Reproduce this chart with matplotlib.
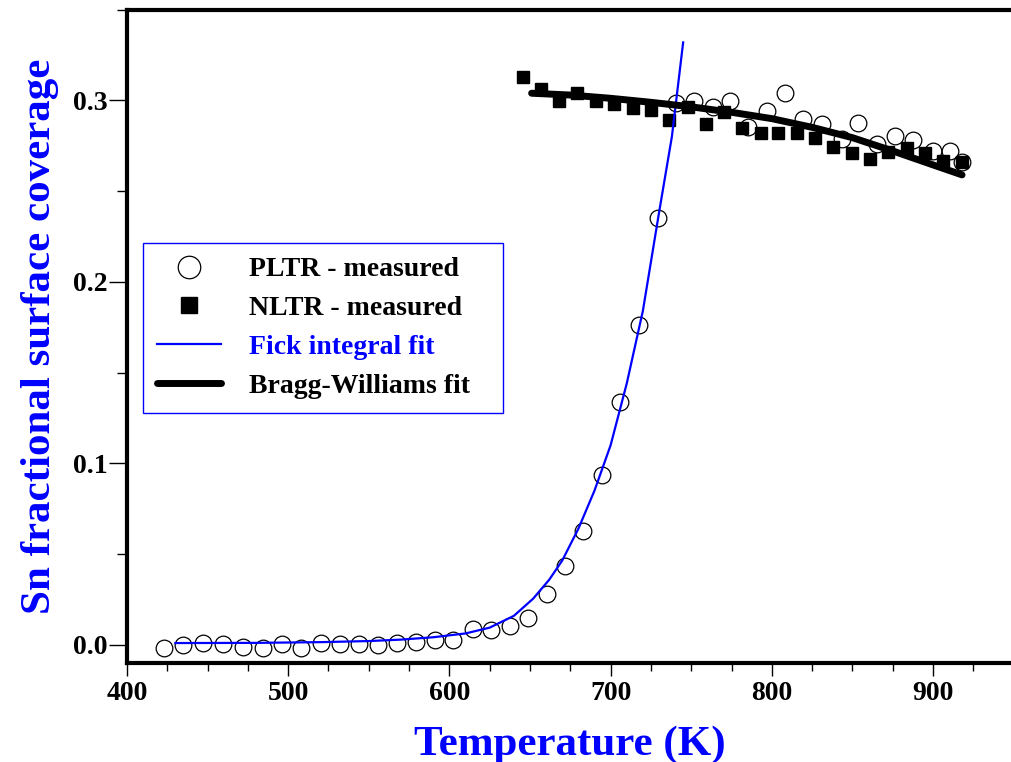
import matplotlib
matplotlib.use("Agg")
import matplotlib.pyplot as plt
from matplotlib.ticker import MultipleLocator, FormatStrFormatter

# PLTR - measured (open circles)
pltr_T = [423.0, 434.7, 447.1, 459.6, 472.0, 484.4, 496.2, 508.0, 520.4, 532.1,
          543.9, 555.7, 567.5, 579.3, 591.1, 602.2, 614.6, 625.8, 637.6, 648.8,
          660.5, 671.7, 682.9, 694.7, 705.8, 717.6, 729.4, 740.6, 751.7, 763.5,
          774.1, 785.2, 797.0, 808.2, 819.4, 831.1, 843.5, 853.5, 865.3, 876.4,
          887.6, 900.0, 910.5, 918.0]
pltr_cov = [-0.0018, -0.0002, 0.0010, 0.0004, -0.0010, -0.0015, 0.0004, -0.0018, 0.0013, 0.0006,
            0.0004, 0.0000, 0.0010, 0.0018, 0.0028, 0.0028, 0.0088, 0.0083, 0.0105, 0.0149,
            0.0281, 0.0435, 0.0628, 0.0937, 0.1339, 0.1763, 0.2353, 0.2986, 0.2997, 0.2964,
            0.2997, 0.2854, 0.2942, 0.3041, 0.2898, 0.2871, 0.2788, 0.2876, 0.2760, 0.2804,
            0.2782, 0.2722, 0.2722, 0.2661]

# NLTR - measured (filled squares)
nltr_T = [645.7, 656.8, 668.0, 679.2, 690.9, 702.1, 713.9, 725.1, 736.2, 748.0,
          759.2, 770.3, 781.5, 793.3, 803.8, 815.6, 826.8, 838.0, 849.8, 860.9,
          872.1, 883.9, 895.0, 906.2, 918.0]
nltr_cov = [0.3129, 0.3063, 0.2997, 0.3041, 0.2997, 0.2981, 0.2959, 0.2948, 0.2893, 0.2964,
            0.2871, 0.2937, 0.2849, 0.2821, 0.2821, 0.2821, 0.2793, 0.2744, 0.2711, 0.2678,
            0.2716, 0.2738, 0.2711, 0.2667, 0.2661]

# Fick integral fit
fick_T = [430, 480, 520, 550, 570, 590, 610, 625, 640, 652,
          662, 670, 680, 690, 700, 710, 720, 730, 738, 745]
fick_cov = [0.0010, 0.0011, 0.0015, 0.0021, 0.0029, 0.0042, 0.0063, 0.0095, 0.0160, 0.0255,
            0.0360, 0.0465, 0.0640, 0.0850, 0.1100, 0.1440, 0.1840, 0.2380, 0.2800, 0.3320]

# Bragg-Williams fit
bw_T = [651, 675, 700, 725, 750, 775, 800, 825, 850, 875, 900, 918]
bw_cov = [0.3040, 0.3030, 0.3012, 0.2990, 0.2965, 0.2935, 0.2900, 0.2852, 0.2795, 0.2722, 0.2645, 0.2590]

plt.rcParams['font.family'] = ['Liberation Serif', 'DejaVu Serif']
plt.rcParams['font.weight'] = 'bold'

fig = plt.figure(figsize=(10.11, 7.62), dpi=100)
ax = fig.add_axes([0.1256, 0.1299, 0.877, 0.8573])

ax.plot(pltr_T, pltr_cov, 'o', ms=12, mfc='none', mec='black', mew=0.9,
        label='PLTR - measured', zorder=2)
ax.plot(nltr_T, nltr_cov, 's', ms=9, mfc='black', mec='black',
        label='NLTR - measured', zorder=3)
ax.plot(fick_T, fick_cov, '-', color='#0000ff', lw=1.6,
        label='Fick integral fit', zorder=4)
ax.plot(bw_T, bw_cov, '-', color='black', lw=5, solid_capstyle='round',
        label='Bragg-Williams fit', zorder=4)

ax.set_xlim(400, 950)
ax.set_ylim(-0.01, 0.35)
ax.xaxis.set_major_locator(MultipleLocator(100))
ax.xaxis.set_minor_locator(MultipleLocator(25))
ax.yaxis.set_major_locator(MultipleLocator(0.1))
ax.yaxis.set_minor_locator(MultipleLocator(0.05))
ax.yaxis.set_major_formatter(FormatStrFormatter('%.1f'))

ax.tick_params(which='both', direction='out', width=1, labelsize=20)
ax.tick_params(axis='x', which='major', length=9, pad=4)
ax.tick_params(axis='x', which='minor', length=6)
ax.tick_params(axis='y', which='major', length=13, pad=1)
ax.tick_params(axis='y', which='minor', length=7)
for lab in ax.get_xticklabels() + ax.get_yticklabels():
    lab.set_fontweight('bold')

for side in ['left', 'bottom', 'top']:
    ax.spines[side].set_linewidth(3)
ax.spines['right'].set_visible(False)

ax.set_xlabel('Temperature (K)', fontsize=31, fontweight='bold', color='#0000ff', labelpad=14)
ax.set_ylabel('Sn fractional surface coverage', fontsize=31, fontweight='bold',
              color='#0000ff', labelpad=10)

leg = ax.legend(loc='upper left',
                bbox_to_anchor=(143 / 1011, 1 - 411 / 762, 360 / 1011, 168 / 762),
                bbox_transform=fig.transFigure, mode='expand', borderaxespad=0,
                fontsize=20, markerscale=1.35, handlelength=2.3, handletextpad=1.0,
                borderpad=0.5, labelspacing=0.48, fancybox=False, framealpha=1)
leg.get_frame().set_edgecolor('#0000ff')
leg.get_frame().set_linewidth(1)
leg.get_texts()[2].set_color('#0000ff')

fig.savefig('out.png', dpi=100)
